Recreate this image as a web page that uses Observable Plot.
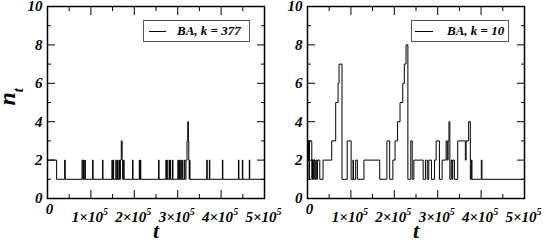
<!DOCTYPE html>
<html><head><meta charset="utf-8">
<script src="https://cdn.jsdelivr.net/npm/d3@7"></script>
<script src="https://cdn.jsdelivr.net/npm/@observablehq/plot@0.6"></script>
<style>
body{margin:0;background:#fff;}
#wrap{position:relative;width:545px;height:241px;display:flex;}
.legend{position:absolute;box-sizing:border-box;height:22px;border:1px solid #555;background:#fff;font:italic bold 13px "Liberation Serif",serif;}
.legend .sw{position:absolute;top:10px;height:0;border-top:1px solid #000;}
.legend .lt{position:absolute;top:2px;white-space:nowrap;}
svg text{font-family:"Liberation Serif","DejaVu Serif",serif !important;font-weight:bold;font-style:italic;}
</style></head><body><div id="wrap"></div>
<script>
// tick values
const xMajor = [1e5, 2e5, 3e5, 4e5, 5e5];
const xMinor = [0.5e5, 1.5e5, 2.5e5, 3.5e5, 4.5e5];
const yMajor = [0, 2, 4, 6, 8, 10];
const yMinor = [1, 3, 5, 7, 9];
const legendLabels = ["BA, k = 377", "BA, k = 10"];

// step series: [t, n_t] at each change point (step-after)
const steps377 = [[0,2],[21000,1],[39500,2],[41000,1],[79500,2],[81500,1],[83000,2],[84000,1],[86200,2],[87200,1],[104000,2],[105000,1],[126800,2],[127800,1],[148500,2],[149500,1],[151500,2],[152500,1],[157500,2],[158500,1],[161300,2],[162300,1],[165000,2],[166000,1],[168000,2],[170000,3],[172000,2],[173000,1],[175500,2],[176500,1],[196000,2],[197000,1],[211500,2],[212500,1],[214000,2],[215000,1],[256000,2],[257000,1],[272800,2],[273800,1],[275000,2],[276000,1],[280200,2],[281200,1],[282800,2],[283800,1],[288000,2],[289000,1],[300500,2],[301500,1],[303500,2],[304500,1],[307000,2],[308000,1],[310000,2],[311500,1],[315000,2],[316500,1],[319000,2],[321500,3],[323200,4],[324500,3],[325500,2],[326500,1],[327300,2],[328300,1],[367000,2],[368000,1],[373000,2],[374000,1],[403000,2],[404000,1],[440000,2],[441000,1],[449000,2],[450000,1],[465000,2],[466000,1],[500000,1]];

const steps10 = [[0,2],[2000,3],[3500,1],[4500,3],[9900,1],[11500,2],[13500,1],[15500,2],[17500,1],[19500,2],[21500,1],[23000,2],[28300,1],[35800,2],[55800,3],[65000,5],[70400,6],[72700,7],[79500,1],[91500,3],[100500,1],[104800,2],[106000,1],[111000,2],[114900,1],[130100,2],[166400,1],[183000,3],[189400,1],[196700,2],[201700,3],[207500,4],[213200,5],[219500,6],[223100,7],[227000,8],[231300,1],[238000,3],[241300,1],[245000,2],[266500,1],[271800,2],[276000,1],[279400,2],[285600,1],[292500,2],[296400,3],[304000,1],[310200,2],[319400,3],[322000,2],[324000,3],[326000,4],[328000,1],[330900,2],[333200,1],[334600,2],[338500,1],[346100,3],[363700,2],[365500,3],[371300,4],[375200,1],[377500,2],[379000,1],[400500,2],[402000,1],[500000,1]];

const FONT = '"Liberation Serif", "DejaVu Serif", serif';
const tx = {fontFamily: FONT, fontWeight: "bold", fontStyle: "italic"};

function panel(steps, width, ml, mr, withYLabel) {
  const data = steps.map(([t, n]) => ({t, n}));
  const marks = [
    Plot.line(data, {x: "t", y: "n", curve: "step-after", stroke: "#000", strokeWidth: 1, clip: true}),
    Plot.frame({stroke: "#000", strokeWidth: 1.5}),
    Plot.axisX(xMajor, {anchor: "bottom", tickSize: -8, fill: "none", label: null}),
    Plot.axisX(xMajor, {anchor: "top", tickSize: -8, fill: "none", label: null}),
    Plot.axisX(xMinor, {anchor: "bottom", tickSize: -4, fill: "none", label: null}),
    Plot.axisX(xMinor, {anchor: "top", tickSize: -4, fill: "none", label: null}),
    Plot.axisY(yMajor, {anchor: "left", tickSize: -8, fill: "none", label: null}),
    Plot.axisY(yMajor, {anchor: "right", tickSize: -8, fill: "none", label: null}),
    Plot.axisY(yMinor, {anchor: "left", tickSize: -4, fill: "none", label: null}),
    Plot.axisY(yMinor, {anchor: "right", tickSize: -4, fill: "none", label: null}),
    Plot.axisX(xMajor, {anchor: "bottom", tickSize: 0, tickPadding: 13, tickFormat: d => `${d / 1e5}×10`, label: null, fontSize: 15, dx: -1, ...tx}),
    Plot.axisX([0], {anchor: "bottom", tickSize: 0, tickPadding: 5, tickFormat: () => "0", label: null, fontSize: 15, dx: 2, ...tx}),
    Plot.axisY(yMajor, {anchor: "left", tickSize: 0, tickPadding: 5, label: null, fontSize: 15, ...tx}),
    Plot.text(["t"], {text: d => d, frameAnchor: "bottom", lineAnchor: "middle", dy: 32, fontSize: 22, ...tx})
  ];
  if (withYLabel) {
    marks.push(Plot.text(["n"], {text: d => d, frameAnchor: "left", rotate: -90, lineAnchor: "middle", dx: -40, dy: 3, fontSize: 24, ...tx}));
  }
  const svg = Plot.plot({
    width, height: 241,
    marginLeft: ml, marginRight: mr, marginTop: 6, marginBottom: 43,
    x: {domain: [0, 5e5]},
    y: {domain: [0, 10]},
    style: {fontFamily: FONT, fontWeight: "bold", fontStyle: "italic", fontSize: "15px", background: "transparent", overflow: "visible", color: "#000"},
    marks
  });
  svg.querySelectorAll("text").forEach(el => {
    const s = el.textContent;
    if (/×10$/.test(s)) {
      const ts = document.createElementNS("http://www.w3.org/2000/svg", "tspan");
      ts.setAttribute("dy", "-7");
      ts.setAttribute("font-size", "10");
      ts.textContent = "5";
      el.appendChild(ts);
    } else if (s === "n") {
      const ts = document.createElementNS("http://www.w3.org/2000/svg", "tspan");
      ts.setAttribute("dy", "7.5");
      ts.setAttribute("font-size", "14");
      ts.textContent = "t";
      el.appendChild(ts);
    }
  });
  svg.style.flex = "none";
  return svg;
}

const wrap = document.getElementById("wrap");
wrap.appendChild(panel(steps377, 272, 47, 8, true));
wrap.appendChild(panel(steps10, 273, 35, 21, false));

function legend(left, width, lineLeft, lineW, textLeft, label) {
  const d = document.createElement("div");
  d.className = "legend";
  d.style.left = left + "px"; d.style.top = "20px"; d.style.width = width + "px";
  const sw = document.createElement("span"); sw.className = "sw";
  sw.style.left = lineLeft + "px"; sw.style.width = lineW + "px";
  const lt = document.createElement("span"); lt.className = "lt";
  lt.style.left = textLeft + "px"; lt.textContent = label;
  d.appendChild(sw); d.appendChild(lt);
  wrap.appendChild(d);
}
legend(143, 107, 5, 17, 33, legendLabels[0]);
legend(411, 98, 3, 18, 35, legendLabels[1]);
</script></body></html>
